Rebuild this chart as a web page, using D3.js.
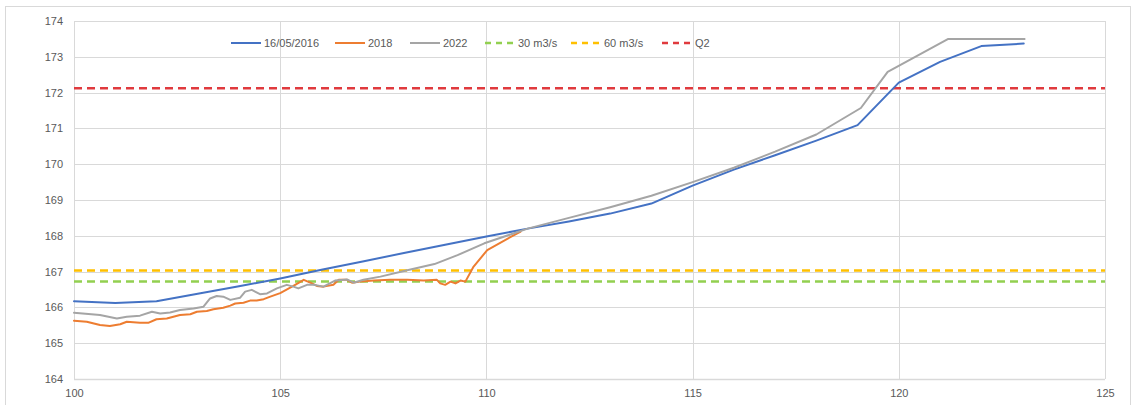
<!DOCTYPE html>
<html>
<head>
<meta charset="utf-8">
<script src="https://cdn.jsdelivr.net/npm/d3@7"></script>
<style>
html,body{margin:0;padding:0;background:#fff;}
text{font-family:"Liberation Sans",Arial,sans-serif;}
</style>
</head>
<body>
<svg id="chart" width="1136" height="405"></svg>
<script>
// ---- Data ----
const xTicks = [100, 105, 110, 115, 120, 125];
const yTicks = [164, 165, 166, 167, 168, 169, 170, 171, 172, 173, 174];
const seriesNames = ["16/05/2016", "2018", "2022", "30 m3/s", "60 m3/s", "Q2"];

const x2016 = [100, 101, 102, 103, 104, 105, 106, 107, 108, 109, 110, 111, 112, 113, 114, 115, 116, 117, 118, 119, 120, 121, 122, 123.03];
const y2016 = [166.17, 166.12, 166.17, 166.38, 166.59, 166.81, 167.05, 167.28, 167.52, 167.75, 167.98, 168.2, 168.4, 168.62, 168.9, 169.4, 169.85, 170.25, 170.66, 171.09, 172.28, 172.86, 173.3, 173.37];

const x2018 = [100, 100.31, 100.63, 100.87, 101.12, 101.28, 101.6, 101.8, 102.0, 102.25, 102.57, 102.82, 102.98, 103.22, 103.38, 103.62, 103.79, 103.91, 104.11, 104.27, 104.43, 104.6, 104.76, 105.0, 105.32, 105.57, 105.73, 105.89, 106.05, 106.29, 106.42, 106.62, 106.74, 106.94, 107.27, 107.67, 108.08, 108.48, 108.8, 108.88, 109.0, 109.13, 109.25, 109.37, 109.49, 109.69, 110.02, 110.67, 110.83];
const y2018 = [165.63, 165.6, 165.51, 165.48, 165.53, 165.6, 165.57, 165.57, 165.67, 165.69, 165.79, 165.81, 165.88, 165.9, 165.95, 165.99, 166.05, 166.11, 166.13, 166.19, 166.19, 166.23, 166.3, 166.4, 166.6, 166.77, 166.69, 166.6, 166.58, 166.63, 166.77, 166.77, 166.69, 166.72, 166.75, 166.77, 166.77, 166.75, 166.77, 166.67, 166.63, 166.72, 166.67, 166.75, 166.72, 167.14, 167.6, 168.02, 168.12];

const x2022 = [100, 100.63, 101.04, 101.28, 101.6, 101.89, 102.09, 102.33, 102.57, 102.9, 103.14, 103.3, 103.46, 103.62, 103.79, 104.03, 104.15, 104.31, 104.51, 104.68, 104.92, 105.16, 105.32, 105.44, 105.65, 105.81, 106.05, 106.33, 106.62, 106.78, 107.02, 107.43, 108.08, 108.74, 109.3, 109.95, 110.67, 111, 112, 113, 114, 115, 116, 117, 118, 119.08, 119.73, 121.2, 123.05];
const y2022 = [165.85, 165.79, 165.69, 165.74, 165.77, 165.88, 165.83, 165.86, 165.93, 165.97, 166.02, 166.25, 166.32, 166.3, 166.21, 166.27, 166.44, 166.49, 166.37, 166.39, 166.53, 166.63, 166.58, 166.53, 166.63, 166.63, 166.58, 166.75, 166.78, 166.69, 166.77, 166.86, 167.04, 167.21, 167.46, 167.79, 168.07, 168.2, 168.5, 168.8, 169.12, 169.5, 169.9, 170.35, 170.83, 171.57, 172.58, 173.5, 173.5];

const refLevels = [166.72, 167.03, 172.12]; // 30 m3/s, 60 m3/s, Q2

// ---- Layout ----
const svg = d3.select("#chart");
const W = 1136, H = 405;
const m = {left: 74, right: 1105, top: 21, bottom: 379};
const x = d3.scaleLinear().domain([100, 125]).range([m.left, m.right]);
const y = d3.scaleLinear().domain([164, 174]).range([m.bottom, m.top]);

// outer border
svg.append("rect").attr("x", 5.5).attr("y", 6.5).attr("width", 1125).attr("height", 420)
  .attr("fill", "#fff").attr("stroke", "#d9d9d9").attr("stroke-width", 1);

// gridlines
const grid = svg.append("g");
grid.selectAll("line.h").data(yTicks).join("line")
  .attr("x1", m.left).attr("x2", m.right)
  .attr("y1", d => Math.round(y(d)) + 0.5).attr("y2", d => Math.round(y(d)) + 0.5)
  .attr("stroke", "#d9d9d9").attr("stroke-width", d => d === 164 ? 1.5 : 1);
grid.selectAll("line.v").data(xTicks).join("line")
  .attr("y1", m.top).attr("y2", m.bottom)
  .attr("x1", d => Math.round(x(d)) + 0.5).attr("x2", d => Math.round(x(d)) + 0.5)
  .attr("stroke", "#d9d9d9").attr("stroke-width", 1);

// axes (labels only)
const yAxis = d3.axisLeft(y).tickValues(yTicks).tickSize(0).tickPadding(11).tickFormat(d3.format("d"));
svg.append("g").attr("transform", `translate(${m.left},0)`).call(yAxis)
  .call(g => g.select(".domain").remove())
  .selectAll("text").attr("fill", "#595959").attr("font-size", "11px")
  .attr("font-family", "Liberation Sans, Arial, sans-serif");
const xAxis = d3.axisBottom(x).tickValues(xTicks).tickSize(0).tickPadding(10).tickFormat(d3.format("d"));
svg.append("g").attr("transform", `translate(0,${m.bottom})`).call(xAxis)
  .call(g => g.select(".domain").remove())
  .selectAll("text").attr("fill", "#595959").attr("font-size", "11px")
  .attr("font-family", "Liberation Sans, Arial, sans-serif");

// reference dashed lines
const refColors = ["#92D050", "#FFC000", "#E03A3E"];
svg.append("g").selectAll("line").data(refLevels).join("line")
  .attr("x1", m.left).attr("x2", m.right)
  .attr("y1", d => y(d)).attr("y2", d => y(d))
  .attr("stroke", (d, i) => refColors[i]).attr("stroke-width", 2.5)
  .attr("stroke-dasharray", "8,5");

// series lines
const line = d3.line().x(d => x(d[0])).y(d => y(d[1]));
const series = [
  {xs: x2016, ys: y2016, color: "#4472C4"},
  {xs: x2018, ys: y2018, color: "#ED7D31"},
  {xs: x2022, ys: y2022, color: "#A5A5A5"}
];
const drawOrder = [0, 1, 2];
drawOrder.forEach(i => {
  const s = series[i];
  const pts = s.xs.map((v, k) => [v, s.ys[k]]);
  svg.append("path").datum(pts).attr("d", line)
    .attr("fill", "none").attr("stroke", s.color).attr("stroke-width", 2)
    .attr("stroke-linejoin", "round").attr("stroke-linecap", "round");
});

// legend
const legendItems = [
  {name: seriesNames[0], color: "#4472C4", dash: null, x0: 231},
  {name: seriesNames[1], color: "#ED7D31", dash: null, x0: 335},
  {name: seriesNames[2], color: "#A5A5A5", dash: null, x0: 410},
  {name: seriesNames[3], color: "#92D050", dash: "6,5", x0: 485},
  {name: seriesNames[4], color: "#FFC000", dash: "6,5", x0: 571},
  {name: seriesNames[5], color: "#E03A3E", dash: "6,5", x0: 662}
];
const lg = svg.append("g");
const ly = 43;
legendItems.forEach(it => {
  lg.append("line").attr("x1", it.x0).attr("x2", it.x0 + 30).attr("y1", ly).attr("y2", ly)
    .attr("stroke", it.color).attr("stroke-width", it.dash ? 2.5 : 2)
    .attr("stroke-dasharray", it.dash);
  lg.append("text").attr("x", it.x0 + 33).attr("y", ly + 4).text(it.name)
    .attr("fill", "#595959").attr("font-size", "11px");
});
</script>
</body>
</html>
